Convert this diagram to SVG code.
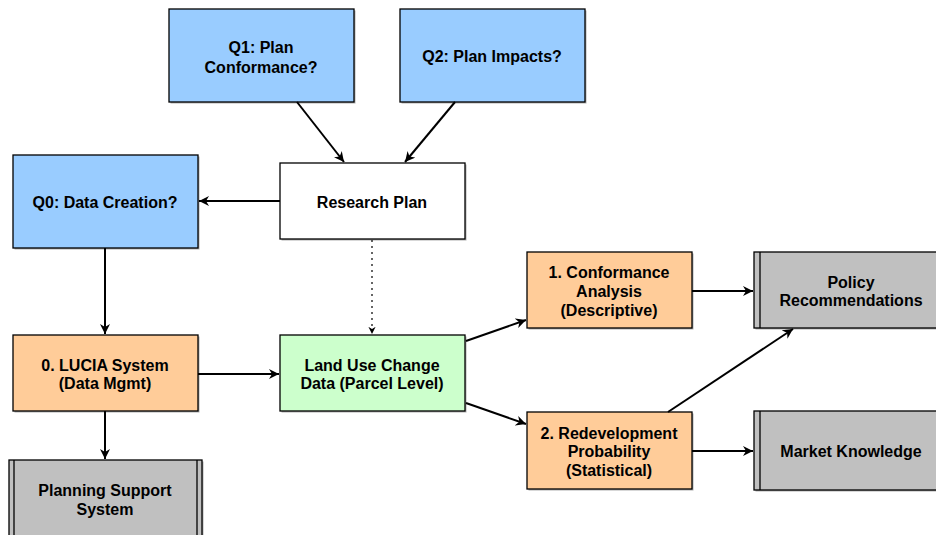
<svg xmlns="http://www.w3.org/2000/svg" width="936" height="535" viewBox="0 0 936 535">
<defs>
<style>
.box{stroke:#000;stroke-width:1.3}
.sh{fill:#b0b0b0;stroke:none}
.blue{fill:#99ccff}
.white{fill:#ffffff}
.orange{fill:#ffcc99}
.green{fill:#ccffcc}
.gray{fill:#c0c0c0}
.ln{stroke:#000;stroke-width:1.3;fill:none}
text{font-family:"Liberation Sans",Arial,sans-serif;font-weight:bold;font-size:16px;fill:#000;text-anchor:middle}
.c{stroke:#000;stroke-width:2;fill:none;marker-end:url(#ah)}
.d{stroke:#000;stroke-width:1.2;fill:none;stroke-dasharray:2 4;marker-end:url(#ahs)}
</style>
<marker id="ah" viewBox="0 0 10 10" refX="10" refY="5" markerWidth="5" markerHeight="5" orient="auto" markerUnits="strokeWidth">
<path d="M0,0 L10,5 L0,10 L3,5 Z" fill="#000"/>
</marker>
<marker id="ahs" viewBox="0 0 10 10" refX="10" refY="5" markerWidth="6" markerHeight="6" orient="auto" markerUnits="strokeWidth">
<path d="M0,0 L10,5 L0,10 L3,5 Z" fill="#000"/>
</marker>
</defs>
<rect width="936" height="535" fill="#fff"/>

<g id="q1">
<rect class="sh" x="170.5" y="10.5" width="185" height="93"/>
<rect class="box blue" x="169" y="9" width="185" height="93"/>
<text x="261" y="53">Q1: Plan</text>
<text x="261" y="73">Conformance?</text>
</g>
<g id="q2">
<rect class="sh" x="401.5" y="10.5" width="185" height="93"/>
<rect class="box blue" x="400" y="9" width="185" height="93"/>
<text x="492" y="62">Q2: Plan Impacts?</text>
</g>
<g id="research-plan">
<rect class="sh" x="281.5" y="164.5" width="185" height="76"/>
<rect class="box white" x="280" y="163" width="185" height="76"/>
<text x="372" y="208">Research Plan</text>
</g>
<g id="q0">
<rect class="sh" x="14.5" y="156.5" width="185" height="93"/>
<rect class="box blue" x="13" y="155" width="185" height="93"/>
<text x="105" y="208">Q0: Data Creation?</text>
</g>
<g id="lucia">
<rect class="sh" x="14.5" y="336.5" width="185" height="76"/>
<rect class="box orange" x="13" y="335" width="185" height="76"/>
<text x="105" y="371">0. LUCIA System</text>
<text x="105" y="389">(Data Mgmt)</text>
</g>
<g id="land-use">
<rect class="sh" x="281.5" y="336.5" width="185" height="76"/>
<rect class="box green" x="280" y="335" width="185" height="76"/>
<text x="372" y="371">Land Use Change</text>
<text x="372" y="389">Data (Parcel Level)</text>
</g>
<g id="conformance">
<rect class="sh" x="528.5" y="253.5" width="165" height="76"/>
<rect class="box orange" x="527" y="252" width="165" height="76"/>
<text x="609" y="278">1. Conformance</text>
<text x="609" y="297">Analysis</text>
<text x="609" y="316">(Descriptive)</text>
</g>
<g id="redevelopment">
<rect class="sh" x="528.5" y="413.5" width="165" height="77"/>
<rect class="box orange" x="527" y="412" width="165" height="77"/>
<text x="609" y="439">2. Redevelopment</text>
<text x="609" y="457">Probability</text>
<text x="609" y="476">(Statistical)</text>
</g>
<g id="policy">
<rect class="sh" x="755.5" y="253.5" width="185" height="76"/>
<rect class="box gray" x="754" y="252" width="185" height="76"/>
<line class="ln" x1="760" y1="252" x2="760" y2="328"/>
<text x="851" y="288">Policy</text>
<text x="851" y="306">Recommendations</text>
</g>
<g id="market">
<rect class="sh" x="755.5" y="412.5" width="185" height="79"/>
<rect class="box gray" x="754" y="411" width="185" height="79"/>
<line class="ln" x1="760" y1="411" x2="760" y2="490"/>
<text x="851" y="457">Market Knowledge</text>
</g>
<g id="pss">
<rect class="sh" x="10.5" y="461.5" width="193" height="80"/>
<rect class="box gray" x="9" y="460" width="193" height="80"/>
<line class="ln" x1="14" y1="460" x2="14" y2="540"/>
<line class="ln" x1="197" y1="460" x2="197" y2="540"/>
<text x="105" y="496">Planning Support</text>
<text x="105" y="515">System</text>
</g>

<g id="connectors">
<line class="c" x1="297" y1="102" x2="344" y2="162"/>
<line class="c" x1="455" y1="102" x2="405" y2="162"/>
<line class="c" x1="280" y1="201" x2="199" y2="201"/>
<line class="d" x1="372" y1="240" x2="372" y2="334"/>
<line class="c" x1="105" y1="248" x2="105" y2="334"/>
<line class="c" x1="198" y1="374" x2="279" y2="374"/>
<line class="c" x1="105" y1="411" x2="105" y2="459"/>
<line class="c" x1="466" y1="341" x2="526" y2="320"/>
<line class="c" x1="466" y1="403" x2="526" y2="424"/>
<line class="c" x1="692" y1="291" x2="753" y2="291"/>
<line class="c" x1="668" y1="412" x2="793" y2="329"/>
<line class="c" x1="692" y1="451" x2="753" y2="451"/>
</g>
</svg>
